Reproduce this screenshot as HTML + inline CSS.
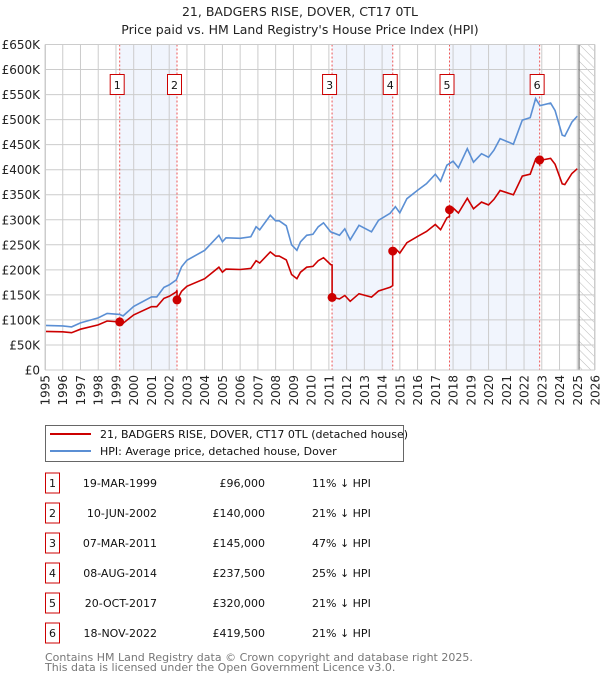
<!DOCTYPE html>
<html><head><meta charset="utf-8"><style>
body{margin:0;background:#fff;font-family:"DejaVu Sans","Liberation Sans",sans-serif;}
svg text{font-family:"DejaVu Sans","Liberation Sans",sans-serif;}
</style></head><body>
<svg id="c" width="600" height="680" viewBox="0 0 600 680" xmlns="http://www.w3.org/2000/svg">
<defs><pattern id="hatch" width="6" height="6" patternUnits="userSpaceOnUse" patternTransform="rotate(-45)"><line x1="0" y1="0" x2="0" y2="6" stroke="#bbb" stroke-width="1"/></pattern></defs>
<text x="300" y="16" text-anchor="middle" font-size="12.5" fill="#222">21, BADGERS RISE, DOVER, CT17 0TL</text>
<text x="300" y="34" text-anchor="middle" font-size="12.5" fill="#222">Price paid vs. HM Land Registry's House Price Index (HPI)</text>
<g id="plot"></g>
<g>
<rect x="45.5" y="425.5" width="358" height="36" fill="#fff" stroke="#666"/>
<line x1="50" y1="434" x2="91" y2="434" stroke="#cc0000" stroke-width="2"/>
<text x="100" y="438" font-size="11" fill="#111">21, BADGERS RISE, DOVER, CT17 0TL (detached house)</text>
<line x1="50" y1="451" x2="91" y2="451" stroke="#5b8fd4" stroke-width="2"/>
<text x="100" y="455" font-size="11" fill="#111">HPI: Average price, detached house, Dover</text>
</g>
<g id="table"></g>
<text x="45" y="661" font-size="11" fill="#777">Contains HM Land Registry data © Crown copyright and database right 2025.</text>
<text x="45" y="671" font-size="11" fill="#777">This data is licensed under the Open Government Licence v3.0.</text>
</svg>
<script>
const hpiYears=[1995,1996,1996.5,1997,1998,1998.5,1999.2,1999.4,2000,2001,2001.3,2001.7,2002,2002.4,2002.7,2003,2004,2004.8,2005,2005.2,2006,2006.6,2006.9,2007.1,2007.7,2008,2008.2,2008.6,2008.9,2009.2,2009.4,2009.75,2010.1,2010.4,2010.7,2011.1,2011.6,2011.9,2012.2,2012.7,2013.4,2013.8,2014.45,2014.75,2015.0,2015.4,2016.0,2016.5,2017.0,2017.3,2017.65,2018.0,2018.3,2018.8,2019.15,2019.6,2020.0,2020.3,2020.65,2021.4,2021.9,2022.35,2022.65,2022.9,2023.5,2023.75,2024.15,2024.3,2024.7,2025.0];
const hpiValues=[89,88,86,94,104,113,111,108,127,146,146,165,170,180,206,219,239,269,256,264,263,266,286,280,309,298,298,288,250,239,256,269,271,286,294,276,269,282,260,289,276,299,313,326,314,342,359,372,391,377,409,417,404,442,415,432,425,439,462,451,499,504,542,528,533,518,469,467,495,507];
const saleIds=["1","2","3","4","5","6"];
const saleDates=[1999.21,2002.44,2011.18,2014.6,2017.8,2022.88];
const salePrices=[96,140,145,237.5,320,419.5];
const saleDateLabels=["19-MAR-1999","10-JUN-2002","07-MAR-2011","08-AUG-2014","20-OCT-2017","18-NOV-2022"];
const salePriceLabels=["£96,000","£140,000","£145,000","£237,500","£320,000","£419,500"];
const saleHpiLabels=["11% ↓ HPI","21% ↓ HPI","47% ↓ HPI","25% ↓ HPI","21% ↓ HPI","21% ↓ HPI"];
const yTicks=[0,50,100,150,200,250,300,350,400,450,500,550,600,650];
const yTickLabels=["£0","£50K","£100K","£150K","£200K","£250K","£300K","£350K","£400K","£450K","£500K","£550K","£600K","£650K"];
const xTicks=[1995,1996,1997,1998,1999,2000,2001,2002,2003,2004,2005,2006,2007,2008,2009,2010,2011,2012,2013,2014,2015,2016,2017,2018,2019,2020,2021,2022,2023,2024,2025,2026];
const dataEnd=2025.1;

const NS="http://www.w3.org/2000/svg";
const X0=45,X1=595,Y0=370,Y1=44.5;
const xs=t=>X0+(t-1995)/(2026-1995)*(X1-X0);
const ys=v=>Y0-v/650*(Y0-Y1);
const plot=document.getElementById('plot');
function mk(tag,attrs,parent){const e=document.createElementNS(NS,tag);for(const k in attrs)e.setAttribute(k,attrs[k]);(parent||plot).appendChild(e);return e;}
function hpiAt(t){for(let i=0;i<hpiYears.length-1;i++){if(t<=hpiYears[i+1]){const f=(t-hpiYears[i])/(hpiYears[i+1]-hpiYears[i]);return hpiValues[i]+f*(hpiValues[i+1]-hpiValues[i]);}}return hpiValues[hpiValues.length-1];}

let bg=mk('rect',{x:X0,y:Y1,width:X1-X0,height:Y0-Y1,fill:'#fff'});


for(let i=0;i+1<saleDates.length;i+=2){
 const r=mk('rect',{x:xs(saleDates[i]),y:Y1,width:xs(saleDates[i+1])-xs(saleDates[i]),height:Y0-Y1,fill:'#eef3fc',opacity:0.8});
 
 
}
const h=mk('rect',{x:xs(dataEnd),y:Y1,width:X1-xs(dataEnd),height:Y0-Y1,fill:'url(#hatch)'});


yTicks.forEach((v,i)=>{
 const l=mk('line',{x1:X0,x2:X1,y1:ys(v),y2:ys(v),stroke:'#cccccc','stroke-width':1});
 
 
 const t=mk('text',{x:40,y:ys(v)+4.5,'text-anchor':'end','font-size':12,fill:'#222'});
 t.textContent=yTickLabels[i];
 
 
});
xTicks.forEach(v=>{
 const l=mk('line',{x1:xs(v),x2:xs(v),y1:Y1,y2:Y0,stroke:'#cccccc','stroke-width':1});
 
 
 const t=mk('text',{x:0,y:0,'text-anchor':'end','font-size':12,fill:'#222',transform:`translate(${xs(v)+4.5},375) rotate(-90)`});
 t.textContent=v;
 
 
});
const dl=mk('line',{x1:xs(dataEnd),x2:xs(dataEnd),y1:Y1,y2:Y0,stroke:'#777','stroke-width':1.2});


saleDates.forEach((d,i)=>{
 const l=mk('line',{x1:xs(d),x2:xs(d),y1:Y1,y2:Y0,stroke:'#ee5555','stroke-width':1,'stroke-dasharray':'2,2'});
 
 
});
const hp=hpiYears.map((t,i)=>`${xs(t).toFixed(1)},${ys(hpiValues[i]).toFixed(1)}`).join(' ');
const hl=mk('polyline',{points:hp,fill:'none',stroke:'#5b8fd4','stroke-width':1.6});


const pts=[];
const allT=hpiYears.concat(saleDates).sort((a,b)=>a-b);
allT.forEach(t=>{
 let k=0;for(let j=0;j<saleDates.length;j++)if(t>=saleDates[j])k=j;
 const ratio=salePrices[k]/hpiAt(saleDates[k]);
 if(saleDates.includes(t)&&k>0){const pr=salePrices[k-1]/hpiAt(saleDates[k-1]);pts.push([t,hpiAt(t)*pr]);}
 pts.push([t,hpiAt(t)*ratio]);
});
const pl=mk('polyline',{points:pts.map(p=>`${xs(p[0]).toFixed(1)},${ys(p[1]).toFixed(1)}`).join(' '),fill:'none',stroke:'#cc0000','stroke-width':1.6});


saleDates.forEach((d,i)=>{
 const c=mk('circle',{cx:xs(d),cy:ys(salePrices[i]),r:4.5,fill:'#cc0000'});
 
 
 const b=mk('rect',{x:xs(d)-9.5,y:74.5,width:14,height:20,fill:'#fff',stroke:'#cc0000','stroke-width':1});
 
 
 const t=mk('text',{x:xs(d)-2.5,y:89,'text-anchor':'middle','font-size':11,fill:'#111'});
 t.textContent=saleIds[i];
 
 
});
const fr=mk('rect',{x:X0+0.5,y:Y1,width:X1-X0-1,height:Y0-Y1,fill:'none',stroke:'#ccc'});


const tb=document.getElementById('table');
saleIds.forEach((id,i)=>{
 const cy=483+i*30;
 const g=mk('g',{},tb);
 
 
 mk('rect',{x:45.5,y:cy-10,width:14,height:20,fill:'#fff',stroke:'#cc0000'},g);
 const a=mk('text',{x:52.5,y:cy+4,'text-anchor':'middle','font-size':11,fill:'#111'},g);a.textContent=id;
 const b=mk('text',{x:157,y:cy+4,'text-anchor':'end','font-size':11,fill:'#111'},g);b.textContent=saleDateLabels[i];
 const c=mk('text',{x:265,y:cy+4,'text-anchor':'end','font-size':11,fill:'#111'},g);c.textContent=salePriceLabels[i];
 const d=mk('text',{x:312,y:cy+4,'font-size':11,fill:'#111'},g);d.textContent=saleHpiLabels[i];
});
</script>
</body></html>
